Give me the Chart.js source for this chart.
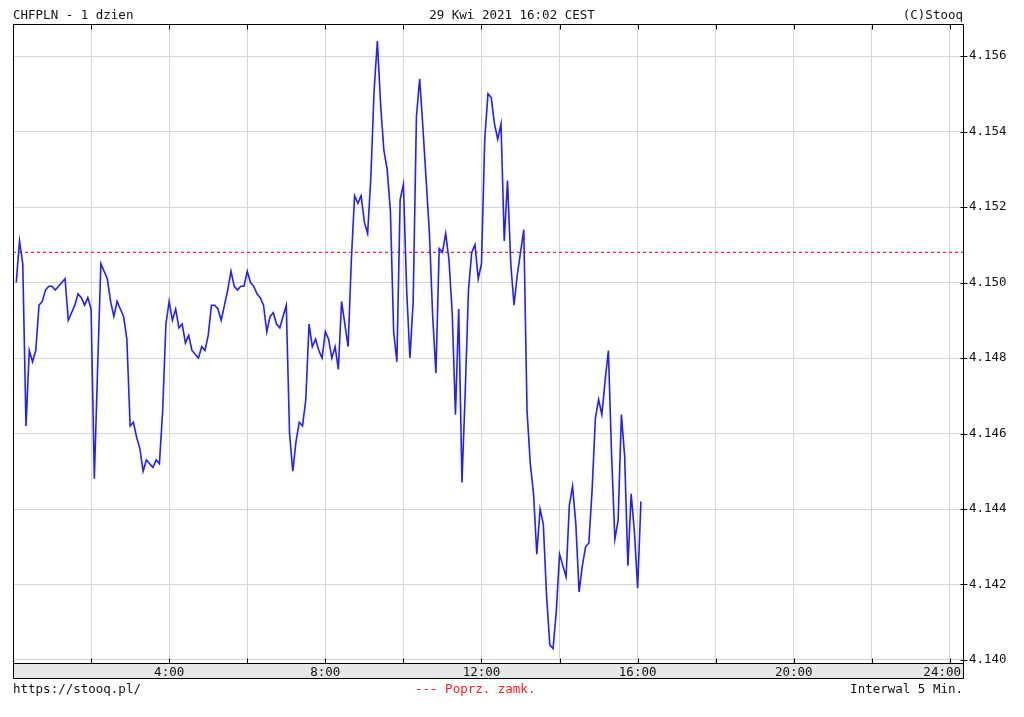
<!DOCTYPE html>
<html>
<head>
<meta charset="utf-8">
<title>CHFPLN - 1 dzien</title>
<script src="https://cdn.jsdelivr.net/npm/chart.js@4.4.1/dist/chart.umd.min.js"></script>
<style>
  html, body { margin: 0; padding: 0; background: #fff; }
  #wrap { width: 1024px; height: 717px; }
</style>
</head>
<body>
<div id="wrap"><canvas id="myChart"></canvas></div>
<script>
// CHFPLN, 29.04.2021, 5 min bars (first bar 0:05)
const firstMinute = 5;
const stepMinutes = 5;
const prices = [
  4.1500, 4.1511, 4.1505, 4.1462, 4.1482, 4.1479, 4.1482, 4.1494, 4.1495, 4.1498, 4.1499, 4.1499,
  4.1498, 4.1499, 4.1500, 4.1501, 4.1490, 4.1492, 4.1494, 4.1497, 4.1496, 4.1494, 4.1496, 4.1493,
  4.1448, 4.1477, 4.1505, 4.1503, 4.1501, 4.1495, 4.1491, 4.1495, 4.1493, 4.1491, 4.1485, 4.1462,
  4.1463, 4.1459, 4.1456, 4.1450, 4.1453, 4.1452, 4.1451, 4.1453, 4.1452, 4.1466, 4.1489, 4.1495,
  4.1490, 4.1493, 4.1488, 4.1489, 4.1484, 4.1486, 4.1482, 4.1481, 4.1480, 4.1483, 4.1482, 4.1486,
  4.1494, 4.1494, 4.1493, 4.1490, 4.1494, 4.1498, 4.1503, 4.1499, 4.1498, 4.1499, 4.1499, 4.1503,
  4.1500, 4.1499, 4.1497, 4.1496, 4.1494, 4.1487, 4.1491, 4.1492, 4.1489, 4.1488, 4.1491, 4.1494,
  4.1460, 4.1450, 4.1458, 4.1463, 4.1462, 4.1469, 4.1489, 4.1483, 4.1485, 4.1482, 4.1480, 4.1487,
  4.1485, 4.1480, 4.1483, 4.1477, 4.1495, 4.1489, 4.1483, 4.1506, 4.1523, 4.1521, 4.1523, 4.1516,
  4.1513, 4.1528, 4.1551, 4.1564, 4.1547, 4.1535, 4.1530, 4.1519, 4.1487, 4.1479, 4.1522, 4.1526,
  4.1498, 4.1480, 4.1495, 4.1544, 4.1554, 4.1541, 4.1527, 4.1513, 4.1491, 4.1476, 4.1509, 4.1508,
  4.1513, 4.1506, 4.1492, 4.1465, 4.1493, 4.1447, 4.1471, 4.1498, 4.1508, 4.1510, 4.1501, 4.1505,
  4.1538, 4.1550, 4.1549, 4.1542, 4.1538, 4.1542, 4.1511, 4.1527, 4.1505, 4.1494, 4.1502, 4.1508,
  4.1514, 4.1466, 4.1452, 4.1444, 4.1428, 4.1440, 4.1436, 4.1417, 4.1404, 4.1403, 4.1413, 4.1428,
  4.1425, 4.1422, 4.1441, 4.1446, 4.1436, 4.1418, 4.1425, 4.1430, 4.1431, 4.1445, 4.1464, 4.1469,
  4.1465, 4.1474, 4.1482, 4.1454, 4.1432, 4.1437, 4.1465, 4.1454, 4.1425, 4.1444, 4.1434, 4.1419,
  4.1442
];
const prevClose = 4.1508;

const yTicks = [4.140, 4.142, 4.144, 4.146, 4.148, 4.150, 4.152, 4.154, 4.156];
const xGridMinutes = [0, 120, 240, 360, 480, 600, 720, 840, 960, 1080, 1200, 1320, 1440];
const xLabelMinutes = [240, 480, 720, 960, 1200, 1440];
const yMin = 4.13992, yMax = 4.15685;
const xMax = 1460;

const mono = "'DejaVu Sans Mono', 'Liberation Mono', monospace";
const fontCss = '12.5px ' + mono;

function hhmm(m) {
  return Math.floor(m / 60) + ':' + String(m % 60).padStart(2, '0');
}

// frame, label strip, small ticks and the texts round the plot
const stooqFrame = {
  id: 'stooqFrame',
  beforeDraw(chart) {
    const { ctx, chartArea: a } = chart;
    ctx.save();
    ctx.fillStyle = '#fff';
    ctx.fillRect(0, 0, chart.width, chart.height);
    ctx.fillStyle = '#e6e6e6';
    ctx.fillRect(a.left, a.bottom, a.right - a.left, 15);
    ctx.restore();
  },
  afterDraw(chart) {
    const { ctx, chartArea: a, scales: { x, y } } = chart;
    ctx.save();
    ctx.strokeStyle = '#000';
    ctx.lineWidth = 1;
    const L = a.left + 0.5, T = a.top + 0.5, R = a.right + 0.5, B = a.bottom + 0.5;
    ctx.beginPath();
    ctx.rect(L, T, R - L, B - T);
    ctx.rect(L, B, R - L, 15);
    ctx.stroke();

    ctx.beginPath();
    xGridMinutes.forEach(m => {
      const px = Math.round(x.getPixelForValue(m)) + 0.5;
      ctx.moveTo(px, B); ctx.lineTo(px, B - 5);
      ctx.moveTo(px, T); ctx.lineTo(px, T + 5);
    });
    yTicks.forEach(v => {
      const py = Math.round(y.getPixelForValue(v)) + 0.5;
      ctx.moveTo(R - 3, py); ctx.lineTo(R + 4, py);
    });
    ctx.stroke();

    ctx.font = fontCss;
    ctx.fillStyle = '#111';
    ctx.textBaseline = 'alphabetic';
    ctx.textAlign = 'center';
    xLabelMinutes.forEach(m => {
      const txt = hhmm(m);
      const w = ctx.measureText(txt).width;
      const cx = Math.min(x.getPixelForValue(m), a.right - 2 - w / 2);
      ctx.fillText(txt, cx, a.bottom + 13);
    });

    ctx.textAlign = 'left';
    ctx.fillText('CHFPLN - 1 dzien', 13, 19);
    ctx.fillText('https://stooq.pl/', 13, 693);
    ctx.textAlign = 'center';
    ctx.fillText('29 Kwi 2021 16:02 CEST', 512, 19);
    ctx.textAlign = 'right';
    ctx.fillText('(C)Stooq', 963, 19);
    ctx.fillText('Interwal 5 Min.', 963, 693);
    ctx.textAlign = 'left';
    ctx.fillStyle = '#ff1a1a';
    ctx.fillText('--- Poprz. zamk.', 415, 693);
    ctx.restore();
  }
};

const ctx = document.getElementById('myChart').getContext('2d');
const myChart = new Chart(ctx, {
  type: 'line',
  data: {
    datasets: [{
      label: 'CHFPLN',
      data: prices.map((p, i) => ({ x: firstMinute + i * stepMinutes, y: p })),
      borderColor: '#1f1fff',
      borderWidth: 1.6,
      pointRadius: 0,
      tension: 0,
      fill: false,
      order: 1
    }, {
      label: 'Poprz. zamk.',
      data: [{ x: 0, y: prevClose }, { x: xMax, y: prevClose }],
      borderColor: '#ff2020',
      borderWidth: 1.2,
      borderDash: [3, 3],
      pointRadius: 0,
      fill: false,
      order: 2
    }]
  },
  options: {
    responsive: true,
    maintainAspectRatio: false,
    animation: false,
    layout: { padding: { left: 13, top: 24, right: 0, bottom: 0 } },
    plugins: {
      legend: { display: false },
      tooltip: { enabled: false }
    },
    scales: {
      x: {
        type: 'linear',
        min: 0,
        max: xMax,
        afterBuildTicks: s => { s.ticks = xGridMinutes.map(v => ({ value: v })); },
        afterFit: s => { s.height = 54; },
        ticks: { display: false },
        grid: { color: '#d6d6d6', drawTicks: false },
        border: { display: false }
      },
      y: {
        position: 'right',
        min: yMin,
        max: yMax,
        afterBuildTicks: s => { s.ticks = yTicks.map(v => ({ value: v })); },
        afterFit: s => { s.width = 61; },
        ticks: {
          padding: 6,
          color: '#111',
          font: { family: mono, size: 12.5 },
          callback: v => v.toFixed(3)
        },
        grid: { color: '#d6d6d6', drawTicks: false },
        border: { display: false }
      }
    }
  },
  plugins: [stooqFrame]
});
</script>
</body>
</html>
